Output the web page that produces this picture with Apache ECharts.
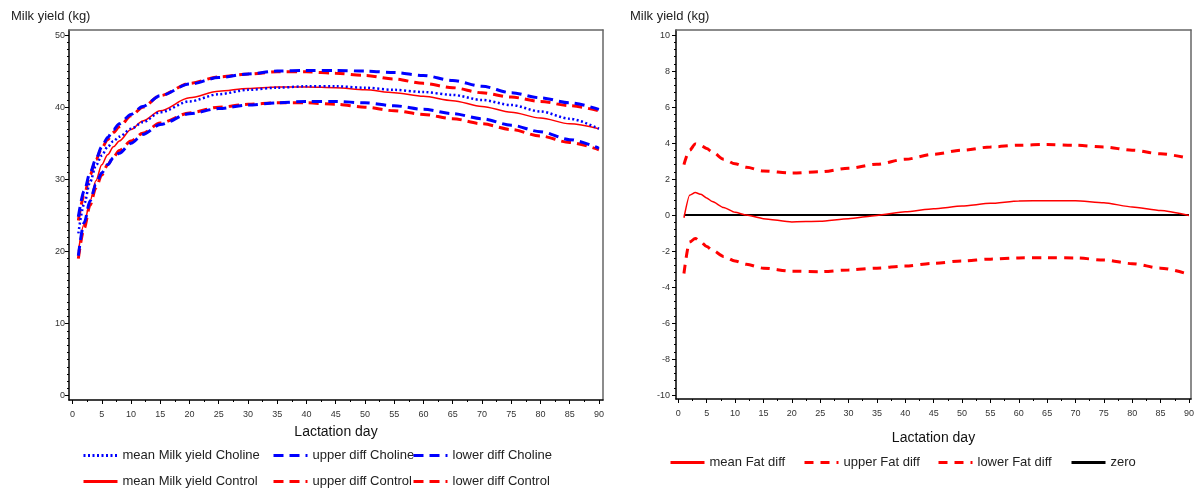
<!DOCTYPE html>
<html>
<head>
<meta charset="utf-8">
<script src="https://cdn.jsdelivr.net/npm/echarts@6/dist/echarts.min.js"></script>
<style>
  html, body { margin: 0; padding: 0; background: #fff; }
  #chart { width: 1197px; height: 491px; }
</style>
</head>
<body>
<div id="chart"></div>
<script>
// 左图：产奶量（按泌乳天数）
const milkDays = [1, 2, 3, 4, 5, 6, 7, 8, 10, 12, 15, 20, 25, 30, 35, 40, 45, 50, 55, 60, 65, 70, 75, 80, 85, 90];
const meanChol  = [22.5, 26.6, 29.6, 31.9, 33.3, 34.5, 35.3, 35.9, 37.0, 37.9, 39.3, 40.8, 41.8, 42.4, 42.7, 42.9, 42.9, 42.7, 42.4, 42.1, 41.7, 41.0, 40.3, 39.4, 38.4, 37.0];
const upperChol = [24.8, 28.4, 30.9, 32.8, 34.5, 35.8, 36.9, 37.7, 39.0, 40.1, 41.6, 43.2, 44.1, 44.6, 45.0, 45.1, 45.1, 45.0, 44.8, 44.4, 43.7, 42.9, 42.0, 41.3, 40.6, 39.7];
const lowerChol = [19.4, 24.0, 27.0, 29.3, 30.9, 32.0, 33.0, 33.6, 35.0, 36.2, 37.6, 39.1, 39.8, 40.3, 40.6, 40.8, 40.8, 40.6, 40.2, 39.7, 39.1, 38.4, 37.5, 36.6, 35.5, 34.3];
const meanCtrl  = [20.0, 23.8, 27.0, 29.8, 32.0, 33.4, 34.5, 35.3, 36.9, 38.1, 39.5, 41.3, 42.2, 42.6, 42.8, 42.8, 42.7, 42.4, 42.0, 41.5, 40.9, 40.1, 39.3, 38.5, 37.7, 37.0];
const upperCtrl = [24.3, 27.8, 30.6, 32.7, 34.3, 35.5, 36.5, 37.3, 38.8, 40.0, 41.6, 43.3, 44.2, 44.6, 44.9, 44.9, 44.7, 44.4, 43.9, 43.3, 42.7, 42.0, 41.4, 40.8, 40.2, 39.5];
const lowerCtrl = [19.0, 23.2, 26.4, 28.8, 30.6, 32.0, 33.1, 34.0, 35.3, 36.4, 37.8, 39.2, 40.0, 40.4, 40.6, 40.6, 40.4, 40.0, 39.5, 39.0, 38.4, 37.7, 36.9, 36.0, 35.1, 34.1];

// 右图：乳脂差异
const fatDays  = [1, 2, 3, 4, 5, 6, 8, 10, 12, 15, 20, 25, 30, 35, 40, 45, 50, 55, 60, 65, 70, 75, 80, 85, 90];
const meanFat  = [-0.15, 1.1, 1.25, 1.15, 0.95, 0.75, 0.42, 0.15, 0.0, -0.2, -0.38, -0.35, -0.2, -0.02, 0.18, 0.35, 0.5, 0.65, 0.78, 0.8, 0.8, 0.68, 0.45, 0.25, -0.02];
const upperFat = [2.8, 3.6, 3.95, 3.85, 3.7, 3.5, 3.1, 2.85, 2.65, 2.45, 2.33, 2.4, 2.6, 2.82, 3.1, 3.38, 3.6, 3.78, 3.88, 3.92, 3.88, 3.78, 3.6, 3.4, 3.15];
const lowerFat = [-3.25, -1.5, -1.3, -1.5, -1.75, -1.95, -2.3, -2.55, -2.74, -2.95, -3.12, -3.15, -3.05, -2.95, -2.83, -2.68, -2.55, -2.45, -2.38, -2.37, -2.38, -2.5, -2.7, -2.95, -3.3];
const zeroDays = [1, 90];
const zeroVals = [0, 0];

// 刻度
const dayTicks = [0, 5, 10, 15, 20, 25, 30, 35, 40, 45, 50, 55, 60, 65, 70, 75, 80, 85, 90];
const milkTicks = [0, 10, 20, 30, 40, 50];
const fatTicks = [-10, -8, -6, -4, -2, 0, 2, 4, 6, 8, 10];

const FONT = "'Liberation Sans', Arial, sans-serif";
const RED = '#ff0000';
const BLUE = '#0000ff';

function pairs(xs, ys) {
    return xs.map((x, i) => [x, ys[i]]);
}

// 次刻度：在主刻度之间等分
function minorOf(ticks, n) {
    const out = [];
    for (let i = 0; i < ticks.length - 1; i++) {
        const step = (ticks[i + 1] - ticks[i]) / n;
        for (let k = 1; k < n; k++) out.push(+(ticks[i] + step * k).toFixed(4));
    }
    return out;
}

function mainAxis(gridIndex, min, max, ticks, pos, labelMargin, name, nameGap) {
    return {
        type: 'value', gridIndex: gridIndex, min: min, max: max, position: pos,
        splitLine: { show: false },
        axisLine: { show: true, onZero: false, lineStyle: { color: '#000', width: 1.5 } },
        axisTick: { show: true, length: 4, customValues: ticks, lineStyle: { color: '#000', width: 1 } },
        axisLabel: { customValues: ticks, fontSize: 9, color: '#333', margin: labelMargin, fontFamily: FONT },
        name: name || '', nameLocation: 'middle', nameGap: nameGap || 0,
        nameTextStyle: { fontSize: 14, color: '#111', fontFamily: FONT }
    };
}

function minorAxis(gridIndex, min, max, ticks, pos) {
    return {
        type: 'value', gridIndex: gridIndex, min: min, max: max, position: pos,
        splitLine: { show: false },
        axisLine: { show: false, onZero: false },
        axisTick: { show: true, length: 2, customValues: ticks, lineStyle: { color: '#000', width: 1 } },
        axisLabel: { show: false }
    };
}

function frameAxis(gridIndex, min, max, pos) {
    return {
        type: 'value', gridIndex: gridIndex, min: min, max: max, position: pos,
        splitLine: { show: false },
        axisLine: { show: true, onZero: false, lineStyle: { color: '#666', width: 1.5 } },
        axisTick: { show: false },
        axisLabel: { show: false }
    };
}

function lineSeries(name, xs, ys, xi, yi, color, type, width, smooth) {
    return {
        name: name, type: 'line', xAxisIndex: xi, yAxisIndex: yi,
        data: pairs(xs, ys), symbol: 'none', smooth: smooth, smoothMonotone: 'x',
        lineStyle: { color: color, type: type, width: width, cap: 'butt' },
        itemStyle: { color: color },
        animation: false
    };
}

function legendItem(name, left, top, width, type) {
    return {
        data: [name], left: left, top: top, itemWidth: 34, itemHeight: 12, padding: 0,
        selectedMode: false,
        itemStyle: { opacity: 0 },
        lineStyle: { width: width, type: type, opacity: 1 },
        textStyle: { fontSize: 13, color: '#222', fontFamily: FONT }
    };
}

const chart = echarts.init(document.getElementById('chart'));

const dashL = [10, 6];
const dashR = [9, 7];
const dot = [2, 2.5];

const option = {
    backgroundColor: '#fff',
    animation: false,
    title: [
        { text: 'Milk yield (kg)', left: 6, top: 5, textStyle: { fontSize: 13, fontWeight: 'normal', color: '#222', fontFamily: FONT } },
        { text: 'Milk yield (kg)', left: 625, top: 5, textStyle: { fontSize: 13, fontWeight: 'normal', color: '#222', fontFamily: FONT } }
    ],
    grid: [
        { left: 69, right: 594, top: 30, bottom: 91 },
        { left: 676, right: 5, top: 30, bottom: 92 }
    ],
    xAxis: [
        mainAxis(0, -0.6, 90.7, dayTicks, 'bottom', 10, 'Lactation day', 25),
        minorAxis(0, -0.6, 90.7, minorOf(dayTicks, 2), 'bottom'),
        frameAxis(0, -0.6, 90.7, 'top'),
        mainAxis(1, -0.4, 90.35, dayTicks, 'bottom', 10, 'Lactation day', 32),
        minorAxis(1, -0.4, 90.35, minorOf(dayTicks, 2), 'bottom'),
        frameAxis(1, -0.4, 90.35, 'top')
    ],
    yAxis: [
        mainAxis(0, -0.6, 50.7, milkTicks, 'left', 4),
        minorAxis(0, -0.6, 50.7, minorOf(milkTicks, 10), 'left'),
        frameAxis(0, -0.6, 50.7, 'right'),
        mainAxis(1, -10.22, 10.28, fatTicks, 'left', 6),
        minorAxis(1, -10.22, 10.28, minorOf(fatTicks, 5), 'left'),
        frameAxis(1, -10.22, 10.28, 'right')
    ],
    legend: [
        legendItem('mean Milk yield Choline', 82, 449, 3, dot),
        legendItem('upper diff Choline', 272, 449, 3, dashL),
        legendItem('lower diff Choline', 412, 449, 3, dashL),
        legendItem('mean Milk yield Control', 82, 475, 3, 'solid'),
        legendItem('upper diff Control', 272, 475, 3, dashL),
        legendItem('lower diff Control', 412, 475, 3, dashL),
        legendItem('mean Fat diff', 669, 456, 3, 'solid'),
        legendItem('upper Fat diff', 803, 456, 3, dashR),
        legendItem('lower Fat diff', 937, 456, 3, dashR),
        legendItem('zero', 1070, 456, 3, 'solid')
    ],
    series: [
        lineSeries('mean Milk yield Control', milkDays, meanCtrl, 0, 0, RED, 'solid', 1.5, 0.3),
        lineSeries('upper diff Control', milkDays, upperCtrl, 0, 0, RED, dashL, 3, 0.3),
        lineSeries('lower diff Control', milkDays, lowerCtrl, 0, 0, RED, dashL, 3, 0.3),
        lineSeries('mean Milk yield Choline', milkDays, meanChol, 0, 0, BLUE, dot, 2.5, 0.3),
        lineSeries('upper diff Choline', milkDays, upperChol, 0, 0, BLUE, dashL, 3, 0.3),
        lineSeries('lower diff Choline', milkDays, lowerChol, 0, 0, BLUE, dashL, 3, 0.3),

        lineSeries('zero', zeroDays, zeroVals, 3, 3, '#000', 'solid', 2, false),
        lineSeries('mean Fat diff', fatDays, meanFat, 3, 3, RED, 'solid', 1.5, 0.2),
        lineSeries('upper Fat diff', fatDays, upperFat, 3, 3, RED, dashR, 3, 0.3),
        lineSeries('lower Fat diff', fatDays, lowerFat, 3, 3, RED, dashR, 3, 0.3)
    ]
};

chart.setOption(option);
</script>
</body>
</html>
